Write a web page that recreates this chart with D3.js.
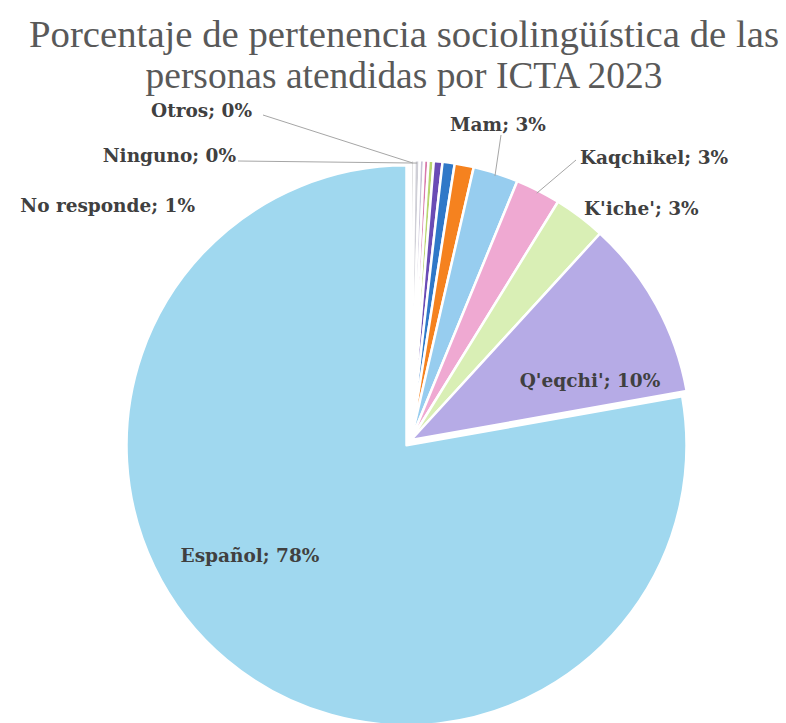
<!DOCTYPE html>
<html>
<head>
<meta charset="utf-8">
<script src="https://cdn.jsdelivr.net/npm/d3@7"></script>
<style>
  body { margin: 0; background: #fff; }
  svg { display: block; }
</style>
</head>
<body>
<svg id="chart" width="786" height="723"></svg>
<script>
// datos (orden ascendente, como en la hoja)
const categories = ["Otros", "Ninguno", "", "", "", "", "", "No responde", "Mam", "Kaqchikel", "K'iche'", "Q'eqchi'", "Español"];
const values     = [0.2, 0.3, 0.25, 0.25, 0.3, 0.5, 0.7, 1.1, 2.6, 2.6, 3.0, 10.4, 77.8];
const colors     = ["#d9d9d9", "#cfcfd6", "#c9c4d8", "#d87aab", "#b9d56e", "#6a4cb5", "#2f78c8", "#f5821f",
                    "#97cdef", "#efa9d2", "#d9efb5", "#b6abe6", "#a0d8ef"];

const title = ["Porcentaje de pertenencia sociolingüística de las", "personas atendidas por ICTA 2023"];

// posición de etiquetas (estilo Excel, colocadas a mano)
const labelPos = {
  "Otros":       { x: 252, y: 117, anchor: "end", leader: [263, 115] },
  "Ninguno":     { x: 236, y: 162, anchor: "end", leader: [238, 161] },
  "No responde": { x: 195, y: 212, anchor: "end" },
  "Mam":         { x: 498, y: 131, anchor: "middle", leader: [501, 135] },
  "Kaqchikel":   { x: 580, y: 164, anchor: "start", leader: [576, 160] },
  "K'iche'":     { x: 584, y: 215, anchor: "start" },
  "Q'eqchi'":    { x: 590, y: 387, anchor: "middle" },
  "Español":     { x: 250, y: 562, anchor: "middle" }
};

const data = categories.map((c, i) => ({ name: c, value: values[i], color: colors[i] }));

const svg = d3.select("#chart");
const cx = 411, cy = 440, r = 280;

// título
const t = svg.append("g").attr("class", "title");
[[title[0], 47, 750], [title[1], 88, 517]].forEach(([txt, y, w]) => {
  const el = t.append("text")
    .attr("x", 404).attr("y", y)
    .attr("text-anchor", "middle")
    .attr("fill", "#595959")
    .style("font-family", "'Liberation Serif', serif")
    .style("font-size", "34px")
    .text(txt);
  const len = el.node().getComputedTextLength();
  el.style("font-size", (34 * w / len) + "px");
});

const pie = d3.pie().sort(null).value(d => d.value);
const arcs = pie(data);
const arc = d3.arc().innerRadius(0).outerRadius(r);

const g = svg.append("g").attr("transform", `translate(${cx},${cy})`);

g.selectAll("path")
  .data(arcs)
  .join("path")
  .attr("d", arc)
  .attr("fill", d => d.data.color)
  .attr("stroke", "#fff")
  .attr("stroke-width", 2.5)
  .attr("stroke-linejoin", "round")
  .attr("transform", d => {
    // el sector Español va un poco separado
    if (d.data.name !== "Español") return null;
    const a = (d.startAngle + d.endAngle) / 2;
    return `translate(${7 * Math.sin(a)},${-7 * Math.cos(a)})`;
  });

// etiquetas y líneas guía
const labeled = arcs.filter(d => labelPos[d.data.name]);

labeled.filter(d => labelPos[d.data.name].leader).forEach(d => {
  const p = labelPos[d.data.name];
  const a = (d.startAngle + d.endAngle) / 2;
  const ex = cx + (r - 3) * Math.sin(a), ey = cy - (r - 3) * Math.cos(a);
  svg.append("polyline")
    .attr("points", [p.leader, [ex, ey]].map(q => q.join(",")).join(" "))
    .attr("fill", "none")
    .attr("stroke", "#a6a6a6")
    .attr("stroke-width", 1);
});

svg.append("g").selectAll("text")
  .data(labeled)
  .join("text")
  .attr("x", d => labelPos[d.data.name].x)
  .attr("y", d => labelPos[d.data.name].y)
  .attr("text-anchor", d => labelPos[d.data.name].anchor)
  .attr("fill", "#404040")
  .style("font-family", "'DejaVu Serif', serif")
  .style("font-weight", "bold")
  .style("font-size", "18.5px")
  .text(d => `${d.data.name}; ${Math.round(d.data.value)}%`);
</script>
</body>
</html>
